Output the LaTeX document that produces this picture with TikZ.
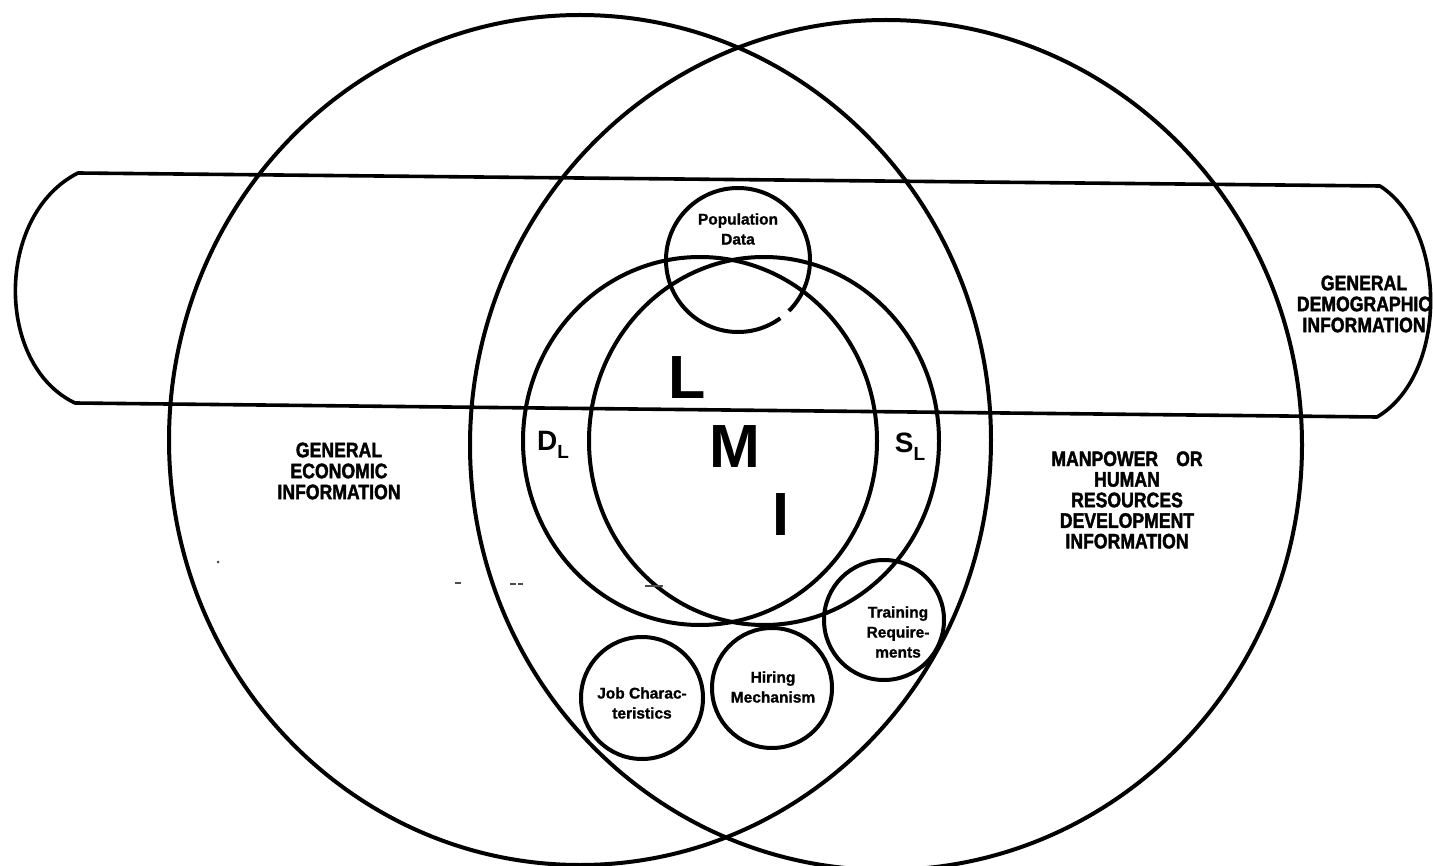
\documentclass[tikz,border=0pt]{standalone}
\usepackage{fontspec}
\setmainfont{Liberation Sans}
\newfontfamily\heavyfont[FakeStretch=0.84, BoldFeatures={FakeBold=1.8}]{Liberation Sans}
\newfontfamily\smallheavy[BoldFeatures={FakeBold=1.2}]{Liberation Sans}
\begin{document}
\begin{tikzpicture}[x=1pt,y=-1pt,line join=round,
  ln/.style={line width=4pt},
  bandln/.style={line width=3.6pt},
  bigtxt/.style={font=\heavyfont\bfseries\fontsize{21}{21}\selectfont, align=center, inner sep=0pt},
  smalltxt/.style={font=\smallheavy\bfseries\fontsize{15.5}{20}\selectfont, align=center, inner sep=0pt},
  letter/.style={font=\bfseries\fontsize{61}{61}\selectfont, inner sep=0pt},
  sublabel/.style={font=\bfseries\fontsize{28}{28}\selectfont, inner sep=0pt},
  speck/.style={line width=1.2pt, black!70}]
\useasboundingbox (0,0) rectangle (1433,866);

% outer ellipses
\coordinate (cEcon) at (580,440);
\coordinate (cMan) at (886,445);
\draw[ln] (cEcon) ellipse [x radius=411pt, y radius=425pt];
\draw[ln] (cMan) ellipse [x radius=416pt, y radius=425pt];

% horizontal band
\coordinate (bTL) at (78,173);
\coordinate (bTR) at (1380,186);
\coordinate (bBR) at (1377,417);
\coordinate (bBL) at (75,403);
\draw[bandln] (bTL) -- (bTR) .. controls (1448,230) and (1448,375) .. (bBR)
  -- (bBL) .. controls (-5,365) and (-5,215) .. (bTL) -- cycle;

% D_L and S_L circles
\coordinate (cD) at (700,441);
\coordinate (cS) at (764,441);
\draw[ln] (cD) ellipse [x radius=177pt, y radius=184pt];
\draw[ln] (cS) ellipse [x radius=175pt, y radius=184pt];

% population data circle (with small gap)
\coordinate (cPop) at (738,260);
\draw[ln] (cPop) ++(-45:72pt) arc[start angle=-45, end angle=306, radius=72pt];

% small circles
\coordinate (cTrain) at (884,620);
\coordinate (cHire) at (772,688);
\coordinate (cJob) at (642,698);
\draw[ln] (cTrain) circle[radius=60pt];
\draw[ln] (cHire) circle[radius=60pt];
\draw[ln] (cJob) circle[radius=61pt];

% texts
\node[bigtxt] (econ) at (339,471) {GENERAL\\ECONOMIC\\INFORMATION};
\node[bigtxt] (demo) at (1364,304) {GENERAL\\DEMOGRAPHIC\\INFORMATION};
\node[bigtxt, font=\heavyfont\bfseries\fontsize{21}{20.6}\selectfont] (man) at (1127,500)
  {MANPOWER\hspace{18pt}OR\\HUMAN\\RESOURCES\\DEVELOPMENT\\INFORMATION};

\node[smalltxt] (popt) at (738,229) {Population\\Data};
\node[smalltxt] (traint) at (898,632) {Training\\Require-\\ments};
\node[smalltxt] (hiret) at (773,687) {Hiring\\Mechanism};
\node[smalltxt] (jobt) at (642,703) {Job Charac-\\teristics};

\node[letter] (L) at (687,378) {L};
\node[letter] (M) at (735,447) {M};
\node[letter] (I) at (781,515) {I};

\node[sublabel] (DL) at (553,445) {D\raisebox{-8pt}{\fontsize{19}{19}\selectfont L}};
\node[sublabel] (SL) at (910,447) {S\raisebox{-8pt}{\fontsize{19}{19}\selectfont L}};

% scan specks
\fill[black!70] (218,562) circle[radius=1.5pt];
\draw[speck] (455,583) -- (461,583);
\draw[speck] (510,584) -- (516,584);
\draw[speck] (518,584) -- (523,584);
\draw[speck] (645,586) -- (663,586);
\end{tikzpicture}
\end{document}
